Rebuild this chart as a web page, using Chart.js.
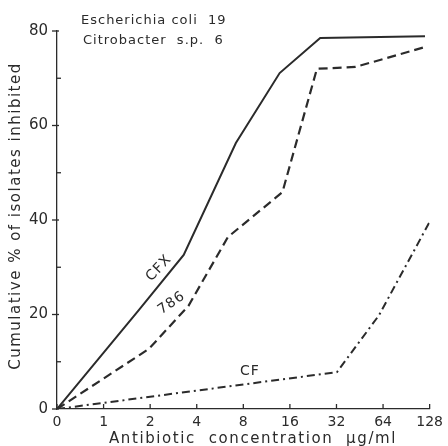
<!DOCTYPE html>
<html><head><meta charset="utf-8">
<script src="https://cdn.jsdelivr.net/npm/chart.js@4.4.1/dist/chart.umd.min.js"></script>
<style>html,body{margin:0;padding:0;background:#fff}#wrap{width:448px;height:446px}</style>
</head><body><div id="wrap"><canvas id="c" width="448" height="446"></canvas></div>
<script>
const xLabels = ['0','1','2','4','8','16','32','64','128'];
const yLabels = ['0','20','40','60','80'];
const cfxX = [0, 1.76, 2.72, 3.84, 4.78, 5.65, 7.9];
const cfxY = [0, 21.0, 32.6, 56.3, 71.1, 78.5, 78.9];
const m786X = [0, 1.97, 2.82, 3.67, 4.84, 5.58, 6.41, 7.9];
const m786Y = [0, 12.7, 21.8, 36.4, 45.9, 72.0, 72.4, 76.6];
const cfX = [0, 6.01, 6.91, 8.0];
const cfY = [0, 7.8, 19.8, 39.6];
const ink = '#2b2b2b';
const FONT = '"DejaVu Sans", sans-serif';
function pts(xs, ys){ return xs.map((x,i)=>({x:x,y:ys[i]})); }

const deco = {
  id:'deco',
  afterDraw(chart){
    const ctx = chart.ctx, xs = chart.scales.x, ys = chart.scales.y;
    ctx.save();
    ctx.strokeStyle = ink; ctx.lineWidth = 1.3;
    for(let i=0;i<xLabels.length;i++){
      const px = xs.getPixelForValue(i);
      ctx.beginPath(); ctx.moveTo(px, ys.bottom); ctx.lineTo(px, ys.bottom-5); ctx.stroke();
    }
    for(let v=0; v<=80; v+=10){
      const py = ys.getPixelForValue(v);
      ctx.beginPath();
      if(v%20===0){ ctx.moveTo(xs.left-5, py); ctx.lineTo(xs.left+2, py); }
      else { ctx.moveTo(xs.left, py); ctx.lineTo(xs.left+4, py); }
      ctx.stroke();
    }
    ctx.fillStyle = ink;
    ctx.letterSpacing = '1px';
    ctx.font = '13px ' + FONT;
    ctx.textBaseline = 'middle'; ctx.textAlign = 'left';
    ctx.fillText('Escherichia coli  19', 81, 21);
    ctx.fillText('Citrobacter  s.p.  6', 83, 41);
    ctx.font = '15px ' + FONT;
    ctx.letterSpacing = '1.6px';
    ctx.textAlign = 'center';
    ctx.fillText('Antibiotic  concentration  µg/ml', 253, 439);
    ctx.save();
    ctx.translate(16, 216); ctx.rotate(-Math.PI/2);
    ctx.letterSpacing = '1.5px';
    ctx.fillText('Cumulative % of isolates inhibited', 0, 0);
    ctx.restore();
    ctx.letterSpacing = '1px';
    ctx.font = '14px ' + FONT;
    ctx.save();
    ctx.translate(xs.getPixelForValue(2.19), ys.getPixelForValue(29.8)); ctx.rotate(-0.82);
    ctx.fillText('CFX', 0, 0); ctx.restore();
    ctx.save();
    ctx.translate(xs.getPixelForValue(2.46), ys.getPixelForValue(22.4)); ctx.rotate(-0.6);
    ctx.fillText('786', 0, 0); ctx.restore();
    ctx.fillText('CF', xs.getPixelForValue(4.14), ys.getPixelForValue(8.0));
    ctx.restore();
  }
};

new Chart(document.getElementById('c'), {
  type:'line',
  data:{datasets:[
    {label:'CFX', data:pts(cfxX,cfxY), borderColor:ink, borderWidth:2, pointRadius:0, tension:0},
    {label:'786', data:pts(m786X,m786Y), borderColor:ink, borderWidth:2.2, borderDash:[9,5], pointRadius:0, tension:0},
    {label:'CF', data:pts(cfX,cfY), borderColor:ink, borderWidth:2, borderDash:[8,4,2,4], pointRadius:0, tension:0}
  ]},
  options:{
    responsive:false, animation:false, devicePixelRatio:1,
    layout:{padding:{top:31, right:14, left:0, bottom:0}},
    plugins:{legend:{display:false}, tooltip:{enabled:false}},
    scales:{
      x:{type:'linear', min:0, max:8,
        grid:{display:false, drawTicks:false}, border:{display:true, color:ink, width:1.3},
        ticks:{stepSize:1, color:ink, font:{family:FONT, size:14}, padding:5, maxRotation:0, autoSkip:false,
          callback:(v)=>xLabels[v] ?? ''},
        afterFit(s){ s.height = 37; }
      },
      y:{type:'linear', min:0, max:80,
        grid:{display:false, drawTicks:false}, border:{display:true, color:ink, width:1.3},
        ticks:{stepSize:20, color:ink, font:{family:FONT, size:15}, padding:9,
          callback:(v)=>yLabels[v/20] ?? ''},
        afterFit(s){ s.width = 57; }
      }
    }
  },
  plugins:[deco]
});
</script></body></html>
